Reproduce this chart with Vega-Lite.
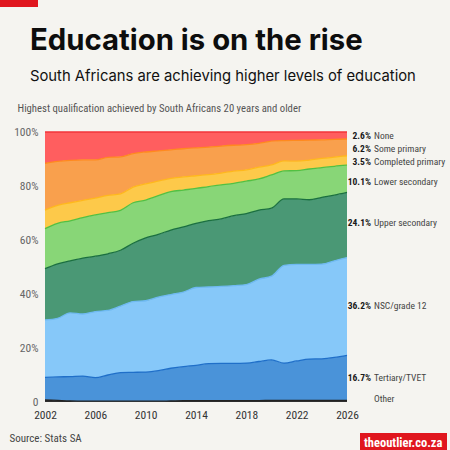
{
  "$schema": "https://vega.github.io/schema/vega-lite/v6.json",
  "width": 302,
  "height": 270,
  "autosize": {"type": "none"},
  "padding": {"left": 45, "top": 132, "right": 103, "bottom": 48},
  "background": "#F5F4F0",
  "title": {
    "text": "Education is on the rise",
    "subtitle": "South Africans are achieving higher levels of education",
    "anchor": "start",
    "frame": "group",
    "dx": -15,
    "font": "Inter",
    "fontSize": 29.3,
    "fontWeight": 700,
    "color": "#0d0d0d",
    "subtitleFont": "Inter",
    "subtitleFontSize": 14.8,
    "subtitleColor": "#111111",
    "subtitlePadding": 13,
    "offset": -85
  },
  "config": {
    "view": {"stroke": null},
    "axis": {"labelFont": "Roboto Condensed, Liberation Sans Narrow, Roboto", "titleFont": "Roboto Condensed, Liberation Sans Narrow, Roboto"},
    "text": {"font": "Roboto Condensed, Liberation Sans Narrow, Roboto"}
  },
  "data": {"values": [
    {"year":2002,"category":"Other","value":0.8},{"year":2002,"category":"Tertiary/TVET","value":8.3},{"year":2002,"category":"NSC/grade 12","value":21.3},{"year":2002,"category":"Upper secondary","value":19.0},{"year":2002,"category":"Lower secondary","value":14.8},{"year":2002,"category":"Completed primary","value":6.9},{"year":2002,"category":"Some primary","value":17.3},{"year":2002,"category":"None","value":11.6},
    {"year":2003,"category":"Other","value":0.6},{"year":2003,"category":"Tertiary/TVET","value":8.7},{"year":2003,"category":"NSC/grade 12","value":21.7},{"year":2003,"category":"Upper secondary","value":20.2},{"year":2003,"category":"Lower secondary","value":15.0},{"year":2003,"category":"Completed primary","value":6.6},{"year":2003,"category":"Some primary","value":16.3},{"year":2003,"category":"None","value":10.9},
    {"year":2004,"category":"Other","value":0.4},{"year":2004,"category":"Tertiary/TVET","value":9.0},{"year":2004,"category":"NSC/grade 12","value":23.6},{"year":2004,"category":"Upper secondary","value":19.3},{"year":2004,"category":"Lower secondary","value":14.8},{"year":2004,"category":"Completed primary","value":6.7},{"year":2004,"category":"Some primary","value":15.7},{"year":2004,"category":"None","value":10.5},
    {"year":2005,"category":"Other","value":0.3},{"year":2005,"category":"Tertiary/TVET","value":9.3},{"year":2005,"category":"NSC/grade 12","value":23.0},{"year":2005,"category":"Upper secondary","value":20.7},{"year":2005,"category":"Lower secondary","value":15.0},{"year":2005,"category":"Completed primary","value":6.4},{"year":2005,"category":"Some primary","value":15.0},{"year":2005,"category":"None","value":10.3},
    {"year":2006,"category":"Other","value":0.3},{"year":2006,"category":"Tertiary/TVET","value":8.7},{"year":2006,"category":"NSC/grade 12","value":24.5},{"year":2006,"category":"Upper secondary","value":20.5},{"year":2006,"category":"Lower secondary","value":15.3},{"year":2006,"category":"Completed primary","value":6.2},{"year":2006,"category":"Some primary","value":14.2},{"year":2006,"category":"None","value":10.3},
    {"year":2007,"category":"Other","value":0.3},{"year":2007,"category":"Tertiary/TVET","value":9.7},{"year":2007,"category":"NSC/grade 12","value":23.9},{"year":2007,"category":"Upper secondary","value":21.0},{"year":2007,"category":"Lower secondary","value":15.2},{"year":2007,"category":"Completed primary","value":6.4},{"year":2007,"category":"Some primary","value":14.1},{"year":2007,"category":"None","value":9.4},
    {"year":2008,"category":"Other","value":0.3},{"year":2008,"category":"Tertiary/TVET","value":10.6},{"year":2008,"category":"NSC/grade 12","value":24.6},{"year":2008,"category":"Upper secondary","value":20.7},{"year":2008,"category":"Lower secondary","value":14.8},{"year":2008,"category":"Completed primary","value":6.1},{"year":2008,"category":"Some primary","value":13.7},{"year":2008,"category":"None","value":9.2},
    {"year":2009,"category":"Other","value":0.3},{"year":2009,"category":"Tertiary/TVET","value":10.7},{"year":2009,"category":"NSC/grade 12","value":26.2},{"year":2009,"category":"Upper secondary","value":21.6},{"year":2009,"category":"Lower secondary","value":15.0},{"year":2009,"category":"Completed primary","value":5.8},{"year":2009,"category":"Some primary","value":12.4},{"year":2009,"category":"None","value":8.0},
    {"year":2010,"category":"Other","value":0.3},{"year":2010,"category":"Tertiary/TVET","value":10.8},{"year":2010,"category":"NSC/grade 12","value":26.4},{"year":2010,"category":"Upper secondary","value":23.3},{"year":2010,"category":"Lower secondary","value":14.0},{"year":2010,"category":"Completed primary","value":6.0},{"year":2010,"category":"Some primary","value":11.8},{"year":2010,"category":"None","value":7.4},
    {"year":2011,"category":"Other","value":0.3},{"year":2011,"category":"Tertiary/TVET","value":11.3},{"year":2011,"category":"NSC/grade 12","value":27.2},{"year":2011,"category":"Upper secondary","value":23.3},{"year":2011,"category":"Lower secondary","value":14.3},{"year":2011,"category":"Completed primary","value":5.4},{"year":2011,"category":"Some primary","value":11.2},{"year":2011,"category":"None","value":7.0},
    {"year":2012,"category":"Other","value":0.4},{"year":2012,"category":"Tertiary/TVET","value":12.1},{"year":2012,"category":"NSC/grade 12","value":27.3},{"year":2012,"category":"Upper secondary","value":23.9},{"year":2012,"category":"Lower secondary","value":14.2},{"year":2012,"category":"Completed primary","value":4.9},{"year":2012,"category":"Some primary","value":10.6},{"year":2012,"category":"None","value":6.6},
    {"year":2013,"category":"Other","value":0.5},{"year":2013,"category":"Tertiary/TVET","value":12.6},{"year":2013,"category":"NSC/grade 12","value":27.6},{"year":2013,"category":"Upper secondary","value":24.2},{"year":2013,"category":"Lower secondary","value":13.6},{"year":2013,"category":"Completed primary","value":4.9},{"year":2013,"category":"Some primary","value":10.4},{"year":2013,"category":"None","value":6.2},
    {"year":2014,"category":"Other","value":0.5},{"year":2014,"category":"Tertiary/TVET","value":13.1},{"year":2014,"category":"NSC/grade 12","value":28.8},{"year":2014,"category":"Upper secondary","value":23.8},{"year":2014,"category":"Lower secondary","value":12.9},{"year":2014,"category":"Completed primary","value":4.7},{"year":2014,"category":"Some primary","value":10.3},{"year":2014,"category":"None","value":5.9},
    {"year":2015,"category":"Other","value":0.5},{"year":2015,"category":"Tertiary/TVET","value":13.7},{"year":2015,"category":"NSC/grade 12","value":28.4},{"year":2015,"category":"Upper secondary","value":24.6},{"year":2015,"category":"Lower secondary","value":12.6},{"year":2015,"category":"Completed primary","value":4.4},{"year":2015,"category":"Some primary","value":10.2},{"year":2015,"category":"None","value":5.6},
    {"year":2016,"category":"Other","value":0.5},{"year":2016,"category":"Tertiary/TVET","value":13.8},{"year":2016,"category":"NSC/grade 12","value":28.5},{"year":2016,"category":"Upper secondary","value":25.0},{"year":2016,"category":"Lower secondary","value":12.6},{"year":2016,"category":"Completed primary","value":4.4},{"year":2016,"category":"Some primary","value":10.0},{"year":2016,"category":"None","value":5.2},
    {"year":2017,"category":"Other","value":0.5},{"year":2017,"category":"Tertiary/TVET","value":13.8},{"year":2017,"category":"NSC/grade 12","value":28.8},{"year":2017,"category":"Upper secondary","value":25.9},{"year":2017,"category":"Lower secondary","value":12.0},{"year":2017,"category":"Completed primary","value":4.5},{"year":2017,"category":"Some primary","value":9.6},{"year":2017,"category":"None","value":4.9},
    {"year":2018,"category":"Other","value":0.5},{"year":2018,"category":"Tertiary/TVET","value":13.9},{"year":2018,"category":"NSC/grade 12","value":29.1},{"year":2018,"category":"Upper secondary","value":26.3},{"year":2018,"category":"Lower secondary","value":12.0},{"year":2018,"category":"Completed primary","value":4.2},{"year":2018,"category":"Some primary","value":9.3},{"year":2018,"category":"None","value":4.7},
    {"year":2019,"category":"Other","value":0.5},{"year":2019,"category":"Tertiary/TVET","value":14.5},{"year":2019,"category":"NSC/grade 12","value":30.5},{"year":2019,"category":"Upper secondary","value":25.6},{"year":2019,"category":"Lower secondary","value":11.5},{"year":2019,"category":"Completed primary","value":4.4},{"year":2019,"category":"Some primary","value":8.8},{"year":2019,"category":"None","value":4.2},
    {"year":2020,"category":"Other","value":0.6},{"year":2020,"category":"Tertiary/TVET","value":15.0},{"year":2020,"category":"NSC/grade 12","value":31.0},{"year":2020,"category":"Upper secondary","value":25.2},{"year":2020,"category":"Lower secondary","value":12.3},{"year":2020,"category":"Completed primary","value":3.7},{"year":2020,"category":"Some primary","value":8.8},{"year":2020,"category":"None","value":3.4},
    {"year":2021,"category":"Other","value":0.6},{"year":2021,"category":"Tertiary/TVET","value":13.8},{"year":2021,"category":"NSC/grade 12","value":36.2},{"year":2021,"category":"Upper secondary","value":24.6},{"year":2021,"category":"Lower secondary","value":10.4},{"year":2021,"category":"Completed primary","value":3.7},{"year":2021,"category":"Some primary","value":7.5},{"year":2021,"category":"None","value":3.2},
    {"year":2022,"category":"Other","value":0.6},{"year":2022,"category":"Tertiary/TVET","value":14.6},{"year":2022,"category":"NSC/grade 12","value":35.8},{"year":2022,"category":"Upper secondary","value":24.2},{"year":2022,"category":"Lower secondary","value":10.5},{"year":2022,"category":"Completed primary","value":3.5},{"year":2022,"category":"Some primary","value":7.7},{"year":2022,"category":"None","value":3.1},
    {"year":2023,"category":"Other","value":0.6},{"year":2023,"category":"Tertiary/TVET","value":15.3},{"year":2023,"category":"NSC/grade 12","value":35.1},{"year":2023,"category":"Upper secondary","value":23.9},{"year":2023,"category":"Lower secondary","value":11.4},{"year":2023,"category":"Completed primary","value":3.3},{"year":2023,"category":"Some primary","value":7.4},{"year":2023,"category":"None","value":3.0},
    {"year":2024,"category":"Other","value":0.6},{"year":2024,"category":"Tertiary/TVET","value":15.4},{"year":2024,"category":"NSC/grade 12","value":35.1},{"year":2024,"category":"Upper secondary","value":24.7},{"year":2024,"category":"Lower secondary","value":11.0},{"year":2024,"category":"Completed primary","value":3.4},{"year":2024,"category":"Some primary","value":6.9},{"year":2024,"category":"None","value":2.9},
    {"year":2025,"category":"Other","value":0.6},{"year":2025,"category":"Tertiary/TVET","value":15.9},{"year":2025,"category":"NSC/grade 12","value":35.8},{"year":2025,"category":"Upper secondary","value":24.3},{"year":2025,"category":"Lower secondary","value":10.7},{"year":2025,"category":"Completed primary","value":3.4},{"year":2025,"category":"Some primary","value":6.6},{"year":2025,"category":"None","value":2.7},
    {"year":2026,"category":"Other","value":0.6},{"year":2026,"category":"Tertiary/TVET","value":16.7},{"year":2026,"category":"NSC/grade 12","value":36.2},{"year":2026,"category":"Upper secondary","value":24.1},{"year":2026,"category":"Lower secondary","value":10.1},{"year":2026,"category":"Completed primary","value":3.5},{"year":2026,"category":"Some primary","value":6.2},{"year":2026,"category":"None","value":2.6}
  ]},
  "transform": [
    {"calculate": "indexof(['Other','Tertiary/TVET','NSC/grade 12','Upper secondary','Lower secondary','Completed primary','Some primary','None'], datum.category)", "as": "rank"},
    {"stack": "value", "groupby": ["year"], "sort": [{"field": "rank", "order": "ascending"}], "as": ["y0", "y1"]},
    {"calculate": "(datum.y0 + datum.y1) / 2", "as": "mid"}
  ],
  "encoding": {
    "x": {
      "field": "year", "type": "quantitative",
      "scale": {"domain": [2002, 2026], "nice": false, "zero": false},
      "axis": {
        "values": [2002, 2006, 2010, 2014, 2018, 2022, 2026],
        "format": "d", "grid": false, "ticks": false, "domain": false, "labelFlush": false,
        "labelFontSize": 11.5, "labelColor": "#333333", "labelPadding": 7,
        "title": "Source: Stats SA", "titleX": -36, "titleY": 36,
        "titleAlign": "left", "titleAnchor": null, "titleBaseline": "middle",
        "titleFontWeight": "normal", "titleFontSize": 11, "titleColor": "#444444"
      }
    }
  },
  "layer": [
    {
      "mark": {"type": "area", "interpolate": "monotone"},
      "encoding": {
        "y": {
          "field": "y1", "type": "quantitative",
          "scale": {"domain": [0, 100], "nice": false},
          "axis": {
            "values": [0, 20, 40, 60, 80, 100],
            "labelExpr": "datum.value == 0 ? '0' : datum.value + '%'",
            "grid": false, "ticks": false, "domain": false, "labelFlush": false,
            "labelFontSize": 11.5, "labelColor": "#666666", "labelPadding": 7,
            "title": "Highest qualification achieved by South Africans 20 years and older",
            "titleAngle": 0, "titleX": -28, "titleY": -24,
            "titleAlign": "left", "titleAnchor": null, "titleBaseline": "middle",
            "titleFontWeight": "normal", "titleFontSize": 10.7, "titleColor": "#555555"
          }
        },
        "y2": {"field": "y0"},
        "fill": {
          "field": "category", "type": "nominal",
          "scale": {
            "domain": ["Other","Tertiary/TVET","NSC/grade 12","Upper secondary","Lower secondary","Completed primary","Some primary","None"],
            "range": ["#2F2F2F","#4A93D9","#86C8F9","#4A9875","#88D677","#FDC94A","#F9A04D","#FF5E5F"]
          },
          "legend": {
            "values": [], "orient": "none", "legendX": -45, "legendY": -133,
            "title": "\u2014\u2014\u2014\u2014\u2014\u2014", "titleFont": "DejaVu Sans", "titleFontSize": 6, "titleColor": "#E0161E", "titlePadding": 0,
            "padding": 1, "fillColor": "#E0161E", "strokeColor": null
          }
        }
      }
    },
    {
      "mark": {"type": "line", "interpolate": "monotone", "strokeWidth": 1.3},
      "encoding": {
        "y": {"field": "y1", "type": "quantitative"},
        "stroke": {
          "field": "category", "type": "nominal",
          "scale": {
            "domain": ["None","Some primary","Completed primary","Lower secondary","Upper secondary","NSC/grade 12","Tertiary/TVET","Other"],
            "range": ["#F2353A","#FF8A1E","#FFB81C","#52C043","#1B7040","#6EB9F2","#1F6FC9","#222222"]
          },
          "legend": {
            "values": [], "orient": "none", "legendX": 315, "legendY": 301,
            "title": "theoutlier.co.za", "titleColor": "#FFFFFF", "titleFontSize": 12.5,
            "titleFontWeight": "bold", "titleFont": "Roboto Condensed, Liberation Sans Narrow, Roboto",
            "titlePadding": 0, "padding": 4, "fillColor": "#E0161E", "strokeColor": null
          }
        }
      }
    },
    {
      "transform": [
        {"filter": "datum.year == 2026 && datum.category != 'Other'"},
        {"calculate": "format(datum.value, '.1f') + '%'", "as": "valueLabel"}
      ],
      "mark": {"type": "text", "align": "right", "baseline": "middle", "dx": 24, "fontSize": 9.5, "fontWeight": "bold", "color": "#1A1A1A",
        "dy": {"expr": "datum.category == 'Some primary' || datum.category == 'Completed primary' ? 2 : datum.category == 'Lower secondary' ? 3 : datum.category == 'Upper secondary' ? -2 : 0"}},
      "encoding": {
        "y": {"field": "mid", "type": "quantitative"},
        "text": {"field": "valueLabel"}
      }
    },
    {
      "transform": [{"filter": "datum.year == 2026"}],
      "mark": {"type": "text", "align": "left", "baseline": "middle", "dx": 27, "fontSize": 9.5, "color": "#444444",
        "dy": {"expr": "datum.category == 'Some primary' || datum.category == 'Completed primary' ? 2 : datum.category == 'Lower secondary' ? 3 : datum.category == 'Upper secondary' ? -2 : datum.category == 'Other' ? -2 : 0"}},
      "encoding": {
        "y": {"field": "mid", "type": "quantitative"},
        "text": {"field": "category"}
      }
    }
  ]
}
